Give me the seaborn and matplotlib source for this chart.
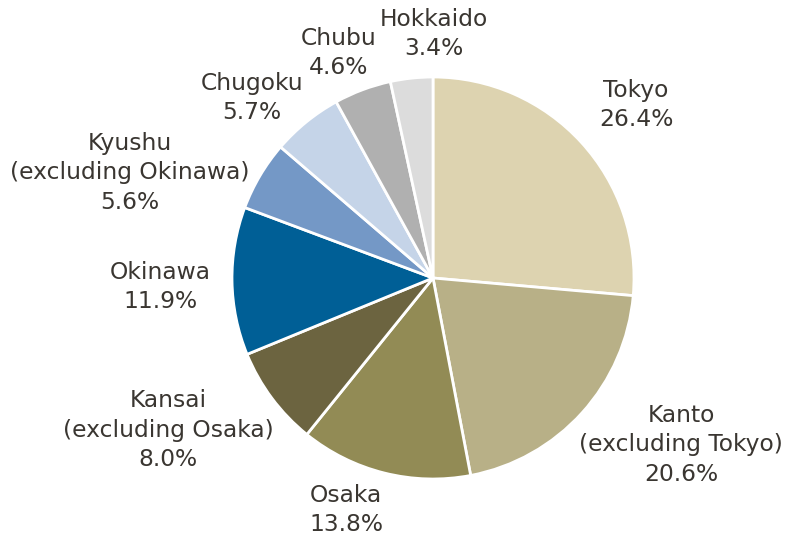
import matplotlib
matplotlib.use("Agg")
import matplotlib.pyplot as plt
import seaborn as sns

# Share of visitors by region (%)
regions = ["Tokyo", "Kanto\n(excluding Tokyo)", "Osaka", "Kansai\n(excluding Osaka)",
           "Okinawa", "Kyushu\n(excluding Okinawa)", "Chugoku", "Chubu", "Hokkaido"]
shares = [26.4, 20.6, 13.8, 8.0, 11.9, 5.6, 5.7, 4.6, 3.4]
colors = ["#DDD3B0", "#B8B087", "#928B55", "#6C6440", "#005F96",
          "#7498C6", "#C5D4E8", "#B0B0B0", "#DCDCDC"]

# label centre offsets from the pie centre, in pixels
label_offsets = [(203, 173), (248, -167), (-87, -232), (-265, -152), (-273, -9),
                 (-303, 105), (-181, 180), (-94, 225), (1, 244)]

sns.set_theme(style="white")
plt.rcParams["font.family"] = ["DejaVu Sans"]

W, H = 789, 538
cx, cy, r = 433, 278, 201
fig = plt.figure(figsize=(W / 100, H / 100), dpi=100)
ax = fig.add_axes([0, 0, 1, 1])

ax.pie(shares, colors=colors, startangle=90, counterclock=False, radius=r,
       center=(0, 0), wedgeprops=dict(edgecolor="white", linewidth=2))

for name, val, (dx, dy) in zip(regions, shares, label_offsets):
    ax.text(dx, dy, f"{name}\n{val:.1f}%", ha="center", va="center",
            fontsize=16.8, color="#3A3631", linespacing=1.36)

ax.set_xlim(-cx, W - cx)
ax.set_ylim(-(H - cy), cy)
ax.set_aspect("equal")
ax.axis("off")
fig.savefig("out.png", dpi=100, facecolor="white")
